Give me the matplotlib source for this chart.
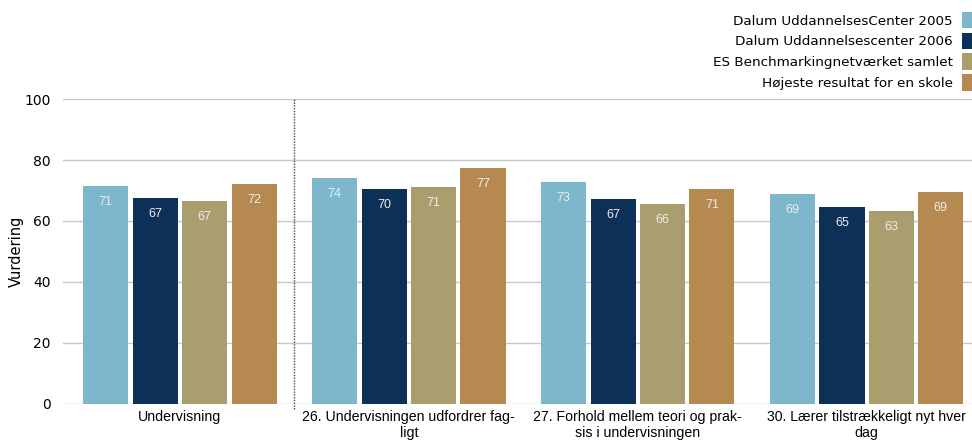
import numpy as np
import matplotlib
matplotlib.use('Agg')
import matplotlib.pyplot as plt
from matplotlib import font_manager

# data
categories = ['Undervisning',
              '26. Undervisningen udfordrer fag-\nligt',
              '27. Forhold mellem teori og prak-\nsis i undervisningen',
              '30. Lærer tilstrækkeligt nyt hver\ndag']
series_names = ['Dalum UddannelsesCenter 2005',
                'Dalum Uddannelsescenter 2006',
                'ES Benchmarkingnetværket samlet',
                'Højeste resultat for en skole']
dalum_2005 = [71.4, 74.1, 72.8, 68.9]
dalum_2006 = [67.4, 70.4, 67.2, 64.6]
es_bench = [66.6, 71.1, 65.6, 63.3]
hoejeste = [72.1, 77.4, 70.6, 69.4]
colors = ['#7EB6CC', '#0C3057', '#AA9D6E', '#B5894F']

series = [dalum_2005, dalum_2006, es_bench, hoejeste]

# pick a narrow font if one is around
installed = set(f.name for f in font_manager.fontManager.ttflist)
narrow = [f for f in ['Liberation Sans Narrow', 'DejaVu Sans Condensed', 'Liberation Sans']
          if f in installed] + ['DejaVu Sans']

fig = plt.figure(figsize=(9.72, 4.42), dpi=100)
ax = fig.add_axes([0.065, 0.086, 0.935, 0.690])

x = np.arange(len(categories))
width = 0.197
pitch = 0.216
for i, (vals, col, name) in enumerate(zip(series, colors, series_names)):
    pos = x + (i - 1.5) * pitch
    bars = ax.bar(pos, vals, width, color=col, label=name, zorder=3)
    for b, v in zip(bars, vals):
        ax.text(b.get_x() + b.get_width() / 2, v - 5.2, '%.0f' % v,
                ha='center', va='center', color='#EDEDED', fontsize=9,
                family=narrow, zorder=4)

# separator between total and the single questions
ax.axvline(0.5, ymin=-0.015, ymax=1, color='#444444', linestyle=(0, (1, 1)),
           linewidth=1, clip_on=False, zorder=2)

ax.set_xlim(-0.51, 3.46)
ax.set_ylim(0, 100)
ax.set_yticks([0, 20, 40, 60, 80, 100])
ax.yaxis.grid(True, color='#C8C8C8', linewidth=1, zorder=0)
ax.set_axisbelow(True)
for s in ax.spines.values():
    s.set_visible(False)
ax.tick_params(axis='both', length=0)
ax.tick_params(axis='y', labelsize=10, pad=9)
ax.set_xticks(x)
ax.set_xticklabels(categories, fontsize=10.2, family=narrow, linespacing=1.2)
ax.tick_params(axis='x', pad=4)
ax.set_ylabel('Vurdering', fontsize=10.5)
ax.yaxis.set_label_coords(-0.043, 0.5)

fig.legend(loc='upper right', bbox_to_anchor=(1.0, 0.973), frameon=False,
           markerfirst=False, fontsize=9.7, handlelength=0.76,
           handleheight=1.5, handletextpad=0.65, labelspacing=0.32,
           borderpad=0, borderaxespad=0)

fig.savefig('out.png', dpi=100)
